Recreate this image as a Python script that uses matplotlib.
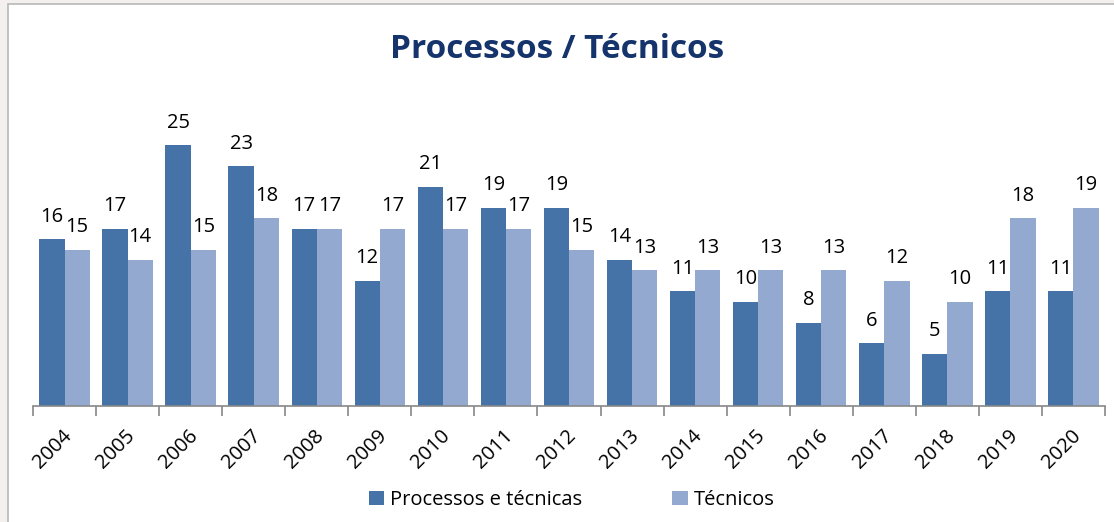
import numpy as np
import matplotlib.pyplot as plt
from matplotlib.patches import Rectangle
from matplotlib.transforms import ScaledTranslation

# Data
years = [str(y) for y in range(2004, 2021)]
processos = [16, 17, 25, 23, 17, 12, 21, 19, 19, 14, 11, 10, 8, 6, 5, 11, 11]
tecnicos = [15, 14, 15, 18, 17, 17, 17, 17, 15, 13, 13, 13, 13, 12, 10, 18, 19]


def main():
    plt.rcParams['font.family'] = ['Open Sans', 'DejaVu Sans']
    fig = plt.figure(figsize=(11.14, 5.22), dpi=100)
    fig.patch.set_facecolor('#f4f0f0')
    # white chart area with grey frame
    fig.patches.append(Rectangle((8 / 1114, -0.1), 1.2, (522 - 4) / 522 + 0.1,
                                 transform=fig.transFigure, facecolor='white',
                                 edgecolor='#b8b8b8', linewidth=1.2, zorder=-5))

    ax = fig.add_axes([33 / 1114, 116 / 522, (1105 - 33) / 1114, 313 / 522])
    ax.set_zorder(2)
    x = np.arange(len(years))
    w = 0.4
    b1 = ax.bar(x - w / 2, processos, w, color='#4573a7', label='Processos e técnicas')
    b2 = ax.bar(x + w / 2, tecnicos, w, color='#94a9d0', label='Técnicos')
    for bars in (b1, b2):
        ax.bar_label(bars, padding=9, fontsize=14.5)

    ax.set_xlim(-0.5, len(years) - 0.5)
    ax.set_ylim(0, 30)
    ax.set_yticks([])
    ax.set_xticks(x)
    ax.set_xticklabels(years, rotation=45, fontsize=14.5, ha='center', va='top')
    ax.tick_params(axis='x', length=0, pad=14)
    # shift the year labels slightly left, like the original
    shift = ScaledTranslation(-0.12, 0, fig.dpi_scale_trans)
    for lbl in ax.get_xticklabels():
        lbl.set_transform(lbl.get_transform() + shift)
    ax.set_xticks(np.arange(len(years) + 1) - 0.5, minor=True)
    ax.tick_params(axis='x', which='minor', length=7, color='#888888', width=1.2)
    for s in ['top', 'right', 'left']:
        ax.spines[s].set_visible(False)
    ax.spines['bottom'].set_color('#888888')
    ax.spines['bottom'].set_linewidth(1.2)
    ax.set_facecolor('none')

    fig.text(0.5, 0.905, 'Processos / Técnicos', ha='center', va='center',
             fontsize=24, fontweight='bold', color='#16346c')
    fig.legend(loc='center', bbox_to_anchor=(0.513, 0.042), ncol=2, frameon=False,
               fontsize=14.5, handlelength=0.75, handleheight=0.75, columnspacing=4.5,
               handletextpad=0.3)
    fig.savefig('out.png', dpi=100, facecolor=fig.get_facecolor())


if __name__ == "__main__":
    main()
